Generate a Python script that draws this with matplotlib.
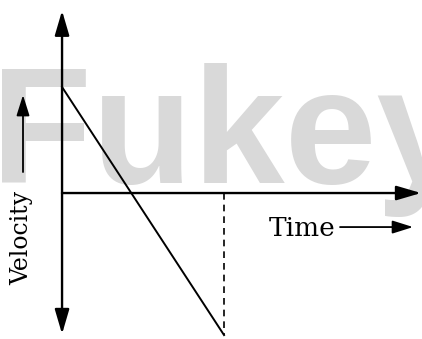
import matplotlib
matplotlib.use("Agg")
import matplotlib.pyplot as plt

# velocity-time graph: starts positive, falls linearly to a negative value
time = [0.0, 1.0]
velocity = [1.0, -1.34]
axis_labels = ["Time", "Velocity"]
watermark = "Fukey"

fig = plt.figure(figsize=(4.22, 3.39), dpi=100)
ax = fig.add_axes([0, 0, 1, 1])
ax.set_xlim(-0.383, 2.222)
ax.set_ylim(-1.377, 1.821)
ax.axis("off")

# watermark behind everything (drawn inside the axes so lines sit on top)
ax.text(-0.022, 0.461, watermark, transform=fig.transFigure, fontsize=119,
        fontweight="bold", family="Liberation Sans", color="#d9d9d9",
        ha="left", va="baseline", zorder=0)

head = "-|>,head_length=0.75,head_width=0.22"
arrow = dict(arrowstyle=head, color="black", lw=1.7,
             mutation_scale=20, shrinkA=0, shrinkB=0)

# axes with arrowheads
ax.annotate("", xy=(0, 1.72), xytext=(0, 0), arrowprops=arrow, zorder=3)
ax.annotate("", xy=(0, -1.33), xytext=(0, 0), arrowprops=arrow, zorder=3)
ax.annotate("", xy=(2.216, 0), xytext=(0, 0), arrowprops=arrow, zorder=3)

# the velocity line
ax.plot(time, velocity, color="black", lw=1.4, zorder=3)
# dashed drop at the end time
ax.plot([time[-1], time[-1]], [0, velocity[-1]], color="black", lw=1.2,
        linestyle=(0, (4, 3)), zorder=3)

# axis labels with their little arrows
small = dict(arrowstyle="-|>,head_length=0.7,head_width=0.22", color="black",
             lw=1.3, mutation_scale=18, shrinkA=0, shrinkB=0)
ax.text(1.691, -0.406, axis_labels[0], family="DejaVu Serif", fontsize=19,
        ha="right", va="baseline", zorder=3)
ax.annotate("", xy=(2.167, -0.321), xytext=(1.716, -0.321), arrowprops=small,
            zorder=3)

ax.text(-0.25, -0.42, axis_labels[1], family="DejaVu Serif", fontsize=17,
        rotation=90, ha="center", va="center", zorder=3)
ax.annotate("", xy=(-0.241, 0.925), xytext=(-0.241, 0.198), arrowprops=small,
            zorder=3)

fig.savefig("out.png", dpi=100)
